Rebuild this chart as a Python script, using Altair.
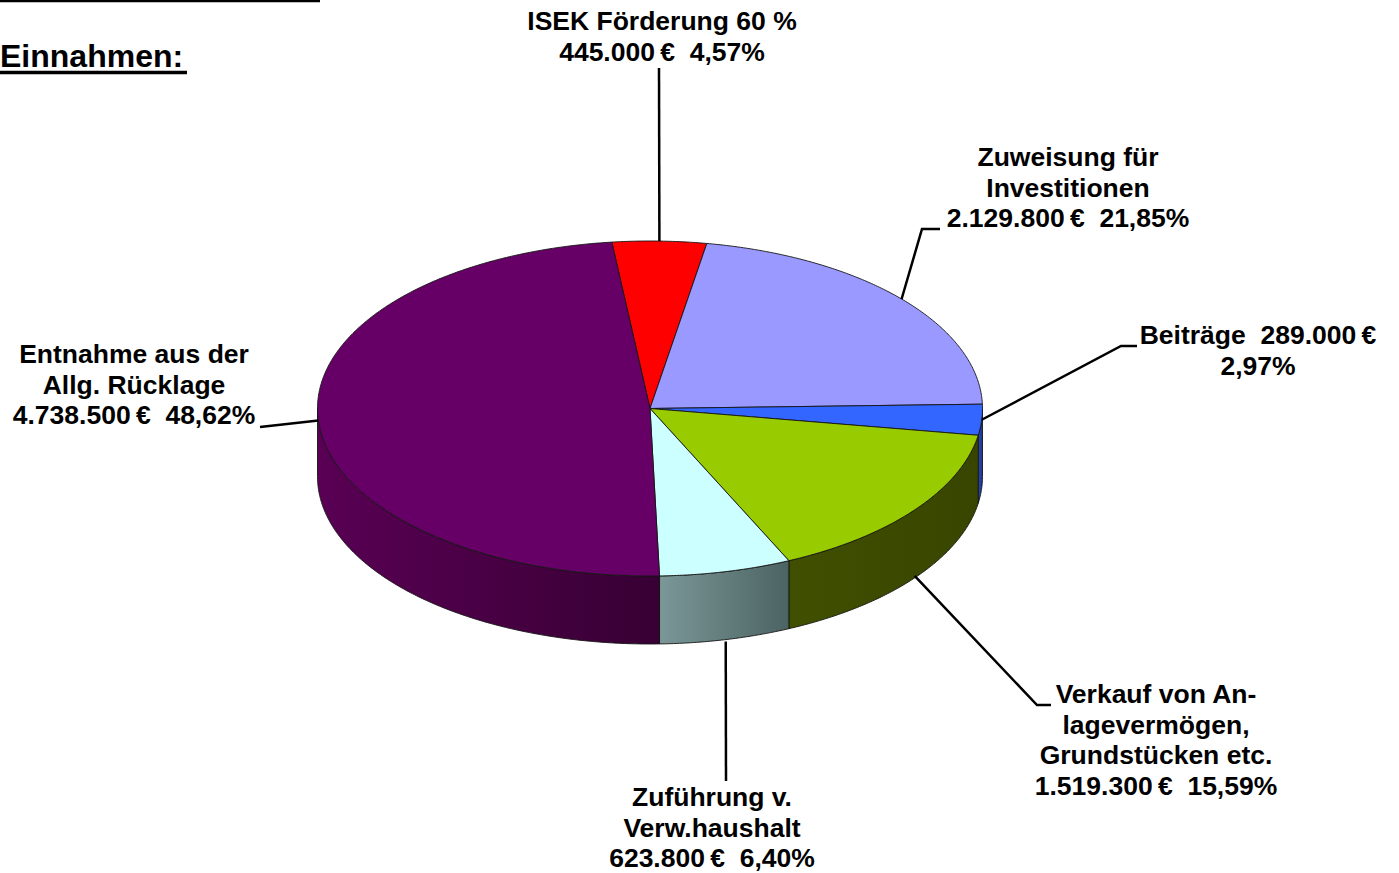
import altair as alt
import numpy as np
import pandas as pd

# ---------------- data ----------------
slice_keys = ["isek", "zuweisung", "beitraege", "verkauf", "zufuehrung", "entnahme"]
amounts = [445000, 2129800, 289000, 1519300, 623800, 4738500]
label_lines = [
    ["ISEK Förderung 60 %", "445.000\u2009€\u00a0 4,57%"],
    ["Zuweisung für", "Investitionen", "2.129.800\u2009€\u00a0 21,85%"],
    ["Beiträge\u00a0 289.000\u2009€", "2,97%"],
    ["Verkauf von An-", "lagevermögen,", "Grundstücken etc.", "1.519.300\u2009€\u00a0 15,59%"],
    ["Zuführung v.", "Verw.haushalt", "623.800\u2009€\u00a0 6,40%"],
    ["Entnahme aus der", "Allg. Rücklage", "4.738.500\u2009€\u00a0 48,62%"],
]
heading = "Einnahmen:"

# ---------------- style / layout ----------------
top_colors = ["#FF0000", "#9999FF", "#3366FF", "#99CC00", "#CCFFFF", "#660066"]
side_colors = {
    "beitraege": ("#2848b0", "#1c3590"),
    "verkauf": ("#405000", "#384500"),
    "zufuehrung": ("#7b9797", "#4c6363"),
    "entnahme": ("#590054", "#370033"),
}
W, H = 1399, 873
CX, CY, RX, RY, DEPTH = 650.0, 408.5, 332.5, 167.5, 68.0
START_DEG = -6.6
FONT = "Liberation Sans"
FONT_SIZE = 26.5
LINE_H = 30.5
label_pos = {
    "isek": (662, 22),
    "zuweisung": (1068, 158),
    "beitraege": (1258, 336),
    "verkauf": (1156, 695),
    "zufuehrung": (712, 798),
    "entnahme": (134, 355),
}
leader_layout = {
    "isek": [(659, 68)],
    "zuweisung": [(922, 229), (940, 229)],
    "beitraege": [(1121, 346), (1137, 346)],
    "verkauf": [(1037, 705), (1051, 705)],
    "zufuehrung": [(726, 781)],
    "entnahme": [(260, 427)],
}
anchor_drop = {"verkauf": DEPTH - 2, "zufuehrung": DEPTH + 2}

# ---------------- geometry derived from the values ----------------
total = float(sum(amounts))
spans = np.array([a / total * 360.0 for a in amounts])
starts = START_DEG + np.concatenate([[0.0], np.cumsum(spans)[:-1]])
ends = starts + spans


def ell(deg, drop=0.0):
    r = np.radians(deg)
    return CX + RX * np.sin(r), CY - RY * np.cos(r) + drop


def arc(a, b, drop=0.0):
    n = max(2, int(np.ceil(abs(b - a) / 0.5)) + 1)
    return [ell(d, drop) for d in np.linspace(a, b, n)]


xs = alt.Scale(domain=[0, W], nice=False, zero=False)
ys = alt.Scale(domain=[0, H], nice=False, zero=False, reverse=True)

top_rows = []
for k, a, b in zip(slice_keys, starts, ends):
    pts = [(CX, CY)] + arc(a, b) + [(CX, CY)]
    for j, (x, y) in enumerate(pts):
        top_rows.append({"key": k, "o": j, "x": x, "y": y})
top_df = pd.DataFrame(top_rows)

side_layers = []
for k, a, b in zip(slice_keys, starts, ends):
    a2, b2 = max(a, 90.0), min(b, 270.0)
    if b2 <= a2 or k not in side_colors:
        continue
    pts = arc(a2, b2) + arc(b2, a2, DEPTH)
    pts.append(pts[0])
    df = pd.DataFrame([{"key": k, "o": j, "x": x, "y": y} for j, (x, y) in enumerate(pts)])
    c0, c1 = side_colors[k]
    grad = alt.LinearGradient(
        gradient="linear",
        stops=[alt.GradientStop(color=c0, offset=0), alt.GradientStop(color=c1, offset=1)],
        x1=0, x2=1, y1=0, y2=0,
    )
    side_layers.append(
        alt.Chart(df).mark_line(fill=grad, stroke="#151515", strokeWidth=0.9, strokeJoin="round").encode(
            x=alt.X("x:Q", scale=xs, axis=None),
            y=alt.Y("y:Q", scale=ys, axis=None),
            order="o:Q",
        )
    )

leader_rows = []
for k, a, b in zip(slice_keys, starts, ends):
    mid = (a + b) / 2.0
    ax, ay = ell(mid, anchor_drop.get(k, 0.0))
    pts = [(ax, ay)] + leader_layout[k]
    for j, (x, y) in enumerate(pts):
        leader_rows.append({"key": k, "o": j, "x": x, "y": y})
leader_df = pd.DataFrame(leader_rows)

text_rows = []
for k, lines in zip(slice_keys, label_lines):
    lx, ly = label_pos[k]
    for i, t in enumerate(lines):
        text_rows.append({"key": k, "t": t, "x": lx, "y": ly + i * LINE_H})
text_df = pd.DataFrame(text_rows)

deco_df = pd.DataFrame([
    {"x": 0, "x2": 320, "y": 1, "w": 2.5},
    {"x": 0, "x2": 187, "y": 72.5, "w": 3.5},
])
head_df = pd.DataFrame([{"t": heading, "x": 0, "y": 67}])

tops = alt.Chart(top_df).mark_line(stroke="#151515", strokeWidth=0.9, strokeJoin="round").encode(
    x=alt.X("x:Q", scale=xs, axis=None),
    y=alt.Y("y:Q", scale=ys, axis=None),
    order="o:Q",
    detail="key:N",
    fill=alt.Fill("key:N", scale=alt.Scale(domain=slice_keys, range=top_colors), legend=None),
)

leaders = alt.Chart(leader_df).mark_line(stroke="#000000", strokeWidth=2.5).encode(
    x=alt.X("x:Q", scale=xs, axis=None),
    y=alt.Y("y:Q", scale=ys, axis=None),
    order="o:Q",
    detail="key:N",
)

texts = alt.Chart(text_df).mark_text(
    font=FONT, fontWeight="bold", fontSize=FONT_SIZE, align="center", baseline="middle", color="#000000"
).encode(
    x=alt.X("x:Q", scale=xs, axis=None),
    y=alt.Y("y:Q", scale=ys, axis=None),
    text="t:N",
)

head = alt.Chart(head_df).mark_text(
    font=FONT, fontWeight="bold", fontSize=32, align="left", baseline="alphabetic", color="#000000"
).encode(
    x=alt.X("x:Q", scale=xs, axis=None),
    y=alt.Y("y:Q", scale=ys, axis=None),
    text="t:N",
)

deco = alt.Chart(deco_df).mark_rule(color="#000000").encode(
    x=alt.X("x:Q", scale=xs, axis=None),
    x2="x2:Q",
    y=alt.Y("y:Q", scale=ys, axis=None),
    strokeWidth=alt.StrokeWidth("w:Q", scale=None),
)

chart = alt.layer(*side_layers, tops, leaders, texts, head, deco).properties(
    width=W, height=H, autosize=alt.AutoSizeParams(type="none"), padding=0, background="white"
).configure_view(stroke=None)

chart.save("out.html", embed_options={"renderer": "svg", "actions": False})
